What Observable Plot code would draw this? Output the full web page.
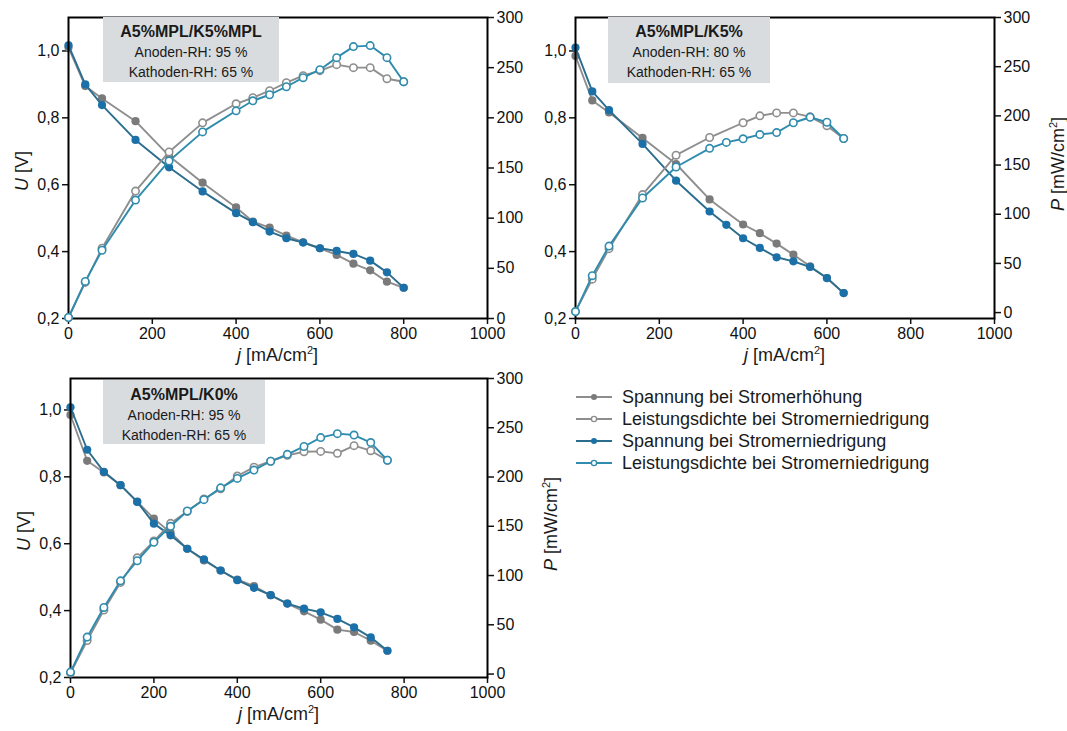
<!DOCTYPE html>
<html><head><meta charset="utf-8">
<script src="https://cdn.jsdelivr.net/npm/d3@7"></script>
<script src="https://cdn.jsdelivr.net/npm/@observablehq/plot@0.6"></script>
<style>
body{margin:0;background:#fff;font-family:"Liberation Sans",Arial,sans-serif;}
#root{position:relative;width:1067px;height:731px;overflow:hidden;background:#fff;}
.layer{position:absolute;}
.box{position:absolute;background:#d9dcdf;text-align:center;color:#1a1a1a;}
.box .t{font-weight:bold;font-size:16px;line-height:20px;margin-top:5px;}
.box .l{font-size:14px;line-height:20px;}
.lab{position:absolute;font-size:18px;color:#1a1a1a;white-space:nowrap;transform:translate(-50%,-50%);}
.rot{transform:translate(-50%,-50%) rotate(-90deg);}
.lab sup{font-size:11px;vertical-align:7px;line-height:0;}
.leg{position:absolute;left:576px;font-size:18px;color:#1a1a1a;white-space:nowrap;}
.leg div{height:22px;display:flex;align-items:center;}
.leg svg{margin-right:10px;}
</style>
</head><body><div id="root"></div>
<script>
// ---- Data ----
const xTicks = [0, 200, 400, 600, 800, 1000];
const uTicks = [0.2, 0.4, 0.6, 0.8, 1.0];
const pTicks = [0, 50, 100, 150, 200, 250, 300];

// Panel 1: A5%MPL/K5%MPL
const p1_j = [0,40,80,160,240,320,400,440,480,520,560,600,640,680,720,760,800];
const p1_U_up = [1.01,0.895,0.858,0.79,0.686,0.606,0.532,0.49,0.472,0.448,0.428,0.41,0.39,0.364,0.344,0.31,0.292];
const p1_P_up = [1,36,70,127,166,195,214,220,227,235,242,247,253,250,250,239,236];
const p1_U_down = [1.017,0.90,0.838,0.734,0.652,0.58,0.515,0.488,0.46,0.44,0.427,0.41,0.402,0.393,0.373,0.338,0.292];
const p1_P_down = [1,37,68,118,157,186,207,217,223,231,240,248,260,271,272,260,236];

// Panel 2: A5%MPL/K5%
const p2_j_up = [0,40,80,160,240,320,400,440,480,520,560,600,640];
const p2_U_up = [0.985,0.852,0.816,0.740,0.662,0.556,0.481,0.455,0.424,0.391,0.356,0.321,0.276];
const p2_P_up = [1,34,65,120,160,178,193,200,203,203,199,190,177];
const p2_j_down = [0,40,80,160,240,320,360,400,440,480,520,560,600,640];
const p2_U_down = [1.01,0.879,0.823,0.722,0.612,0.52,0.48,0.44,0.411,0.383,0.371,0.354,0.321,0.276];
const p2_P_down = [1,37.5,67.6,116.5,148,167,173,176.7,181,183,193,198.6,193.5,177];

// Panel 3: A5%MPL/K0%
const p3_j = [0,40,80,120,160,200,240,280,320,360,400,440,480,520,560,600,640,680,720,760];
const p3_U_up = [0.985,0.848,0.813,0.775,0.726,0.675,0.633,0.585,0.55,0.52,0.493,0.473,0.446,0.421,0.398,0.373,0.343,0.336,0.31,0.28];
const p3_P_up = [1,34,65,93,118,135,153,165,177.7,188,201,210,216,222,225.7,226,224,231.8,226.7,217];
const p3_U_down = [1.008,0.881,0.815,0.775,0.725,0.66,0.625,0.585,0.553,0.52,0.491,0.468,0.446,0.421,0.406,0.395,0.375,0.35,0.32,0.28];
const p3_P_down = [2,37.5,67.6,94.6,115,133.8,150,165.5,177,189,198.6,207,216,223,231,240,244,242.6,235,217];

const titles = ["A5%MPL/K5%MPL", "A5%MPL/K5%", "A5%MPL/K0%"];
const anodeRH = ["Anoden-RH: 95 %", "Anoden-RH: 80 %", "Anoden-RH: 95 %"];
const cathodeRH = ["Kathoden-RH: 65 %", "Kathoden-RH: 65 %", "Kathoden-RH: 65 %"];
const legendLabels = ["Spannung bei Stromerhöhung", "Leistungsdichte bei Stromerniedrigung", "Spannung bei Stromerniedrigung", "Leistungsdichte bei Stromerniedrigung"];

// ---- Styles ----
const UP_LINE = "#8e8e8e", UP_DOT = "#7a7a7a";
const DN_U_LINE = "#2b6d8e", DN_U_DOT = "#1b70a8";
const DN_P = "#2f8cae";

const root = document.getElementById("root");
const fmtU = d => d.toFixed(1).replace(".", ",");
const zipS = (js, vs) => js.map((j, i) => ({j, v: vs[i]}));
const plotStyle = {background: "none", overflow: "visible", fontSize: "16px",
  fontFamily: "Liberation Sans, Arial, sans-serif", color: "#111", maxWidth: "none"};

function addLayer(svg, left, top, w) {
  const d = document.createElement("div");
  d.className = "layer"; d.style.left = left + "px"; d.style.top = top + "px"; d.style.width = w + "px";
  d.appendChild(svg); root.appendChild(d);
}

function seriesMarks(data, lineColor, dotColor, open) {
  return [
    Plot.line(data, {x: "j", y: "v", stroke: lineColor, strokeWidth: 1.9}),
    open
      ? Plot.dot(data, {x: "j", y: "v", r: 3.7, fill: "white", stroke: lineColor, strokeWidth: 1.6})
      : Plot.dot(data, {x: "j", y: "v", r: 4.1, fill: dotColor, stroke: "none"})
  ];
}

function panel(c) {
  const dims = {width: c.w, height: c.h, marginLeft: c.ml, marginRight: c.mr, marginTop: c.mt, marginBottom: c.mb, style: plotStyle};
  const uPlot = Plot.plot({
    ...dims,
    x: {domain: [0, 1000]},
    y: {domain: c.uDomain},
    marks: [
      Plot.axisX({ticks: xTicks, tickFormat: d => String(d), tickSize: 6, tickPadding: 3, strokeWidth: 1.5, label: null}),
      Plot.axisY({ticks: uTicks, tickFormat: fmtU, tickSize: 6, tickPadding: 3, strokeWidth: 1.5, label: null}),
      ...seriesMarks(zipS(c.jUp, c.uUp), UP_LINE, UP_DOT, false),
      ...seriesMarks(zipS(c.jDn, c.uDn), DN_U_LINE, DN_U_DOT, false),
      Plot.frame({stroke: "#000", strokeWidth: 2})
    ]
  });
  const pPlot = Plot.plot({
    ...dims,
    x: {domain: [0, 1000], axis: null},
    y: {domain: c.pDomain},
    marks: [
      Plot.axisY({anchor: "right", ticks: pTicks, tickFormat: d => String(d), tickSize: 6, tickPadding: 3, strokeWidth: 1.5, label: null}),
      ...seriesMarks(zipS(c.jUp, c.pUp), UP_LINE, UP_DOT, true),
      ...seriesMarks(zipS(c.jDn, c.pDn), DN_P, DN_P, true)
    ]
  });
  addLayer(uPlot, c.left, c.top, c.w);
  addLayer(pPlot, c.left, c.top, c.w);
  // annotation box
  const b = document.createElement("div");
  b.className = "box";
  Object.assign(b.style, {left: c.box[0] + "px", top: c.box[1] + "px", width: c.box[2] + "px", height: c.box[3] + "px"});
  b.innerHTML = `<div class="t">${titles[c.i]}</div><div class="l">${anodeRH[c.i]}</div><div class="l">${cathodeRH[c.i]}</div>`;
  root.appendChild(b);
  // axis labels
  const px0 = c.left + c.ml, px1 = c.left + c.w - c.mr, py0 = c.top + c.mt, py1 = c.top + c.h - c.mb;
  const addLab = (html, x, y, rot) => {
    const l = document.createElement("div");
    l.className = "lab" + (rot ? " rot" : "");
    l.style.left = x + "px"; l.style.top = y + "px"; l.innerHTML = html; root.appendChild(l);
  };
  addLab('<i>j</i> [mA/cm<sup>2</sup>]', (px0 + px1) / 2, py1 + 37, false);
  if (c.uLabel) addLab('<i>U</i> [V]', px0 - 46, (py0 + py1) / 2 + 3, true);
  if (c.pLabel) addLab('<i>P</i> [mW/cm<sup>2</sup>]', px1 + 64, (py0 + py1) / 2 - 4, true);
}

panel({i: 0, left: 0, top: 0, w: 540, h: 365, ml: 68, mr: 53, mt: 17, mb: 47,
  uDomain: [0.2, 1.1], pDomain: [0, 300],
  jUp: p1_j, uUp: p1_U_up, pUp: p1_P_up, jDn: p1_j, uDn: p1_U_down, pDn: p1_P_down,
  box: [103, 17, 176, 65], uLabel: true, pLabel: false});

panel({i: 1, left: 507, top: 0, w: 540, h: 365, ml: 68, mr: 53, mt: 17, mb: 47,
  uDomain: [0.2, 1.1], pDomain: [-6, 300],
  jUp: p2_j_up, uUp: p2_U_up, pUp: p2_P_up, jDn: p2_j_down, uDn: p2_U_down, pDn: p2_P_down,
  box: [608, 17, 162, 66], uLabel: false, pLabel: true});

panel({i: 2, left: 0, top: 365, w: 540, h: 366, ml: 70, mr: 53, mt: 13, mb: 54,
  uDomain: [0.2, 1.094], pDomain: [-3.5, 300],
  jUp: p3_j, uUp: p3_U_up, pUp: p3_P_up, jDn: p3_j, uDn: p3_U_down, pDn: p3_P_down,
  box: [103, 380, 162, 64], uLabel: true, pLabel: true});

// legend
const legendStyles = [
  {line: UP_LINE, fill: UP_DOT, open: false},
  {line: UP_LINE, fill: "white", open: true},
  {line: DN_U_LINE, fill: DN_U_DOT, open: false},
  {line: DN_P, fill: "white", open: true}
];
const leg = document.createElement("div");
leg.className = "leg"; leg.style.top = "386px";
legendLabels.forEach((t, k) => {
  const s = legendStyles[k];
  const row = document.createElement("div");
  row.innerHTML = `<svg width="36" height="12"><line x1="0" x2="36" y1="6" y2="6" stroke="${s.line}" stroke-width="1.8"/>` +
    `<circle cx="18" cy="6" r="${s.open ? 2.6 : 3}" fill="${s.fill}" stroke="${s.open ? s.line : "none"}" stroke-width="1.4"/></svg><span>${t}</span>`;
  leg.appendChild(row);
});
root.appendChild(leg);
</script>
</body></html>
